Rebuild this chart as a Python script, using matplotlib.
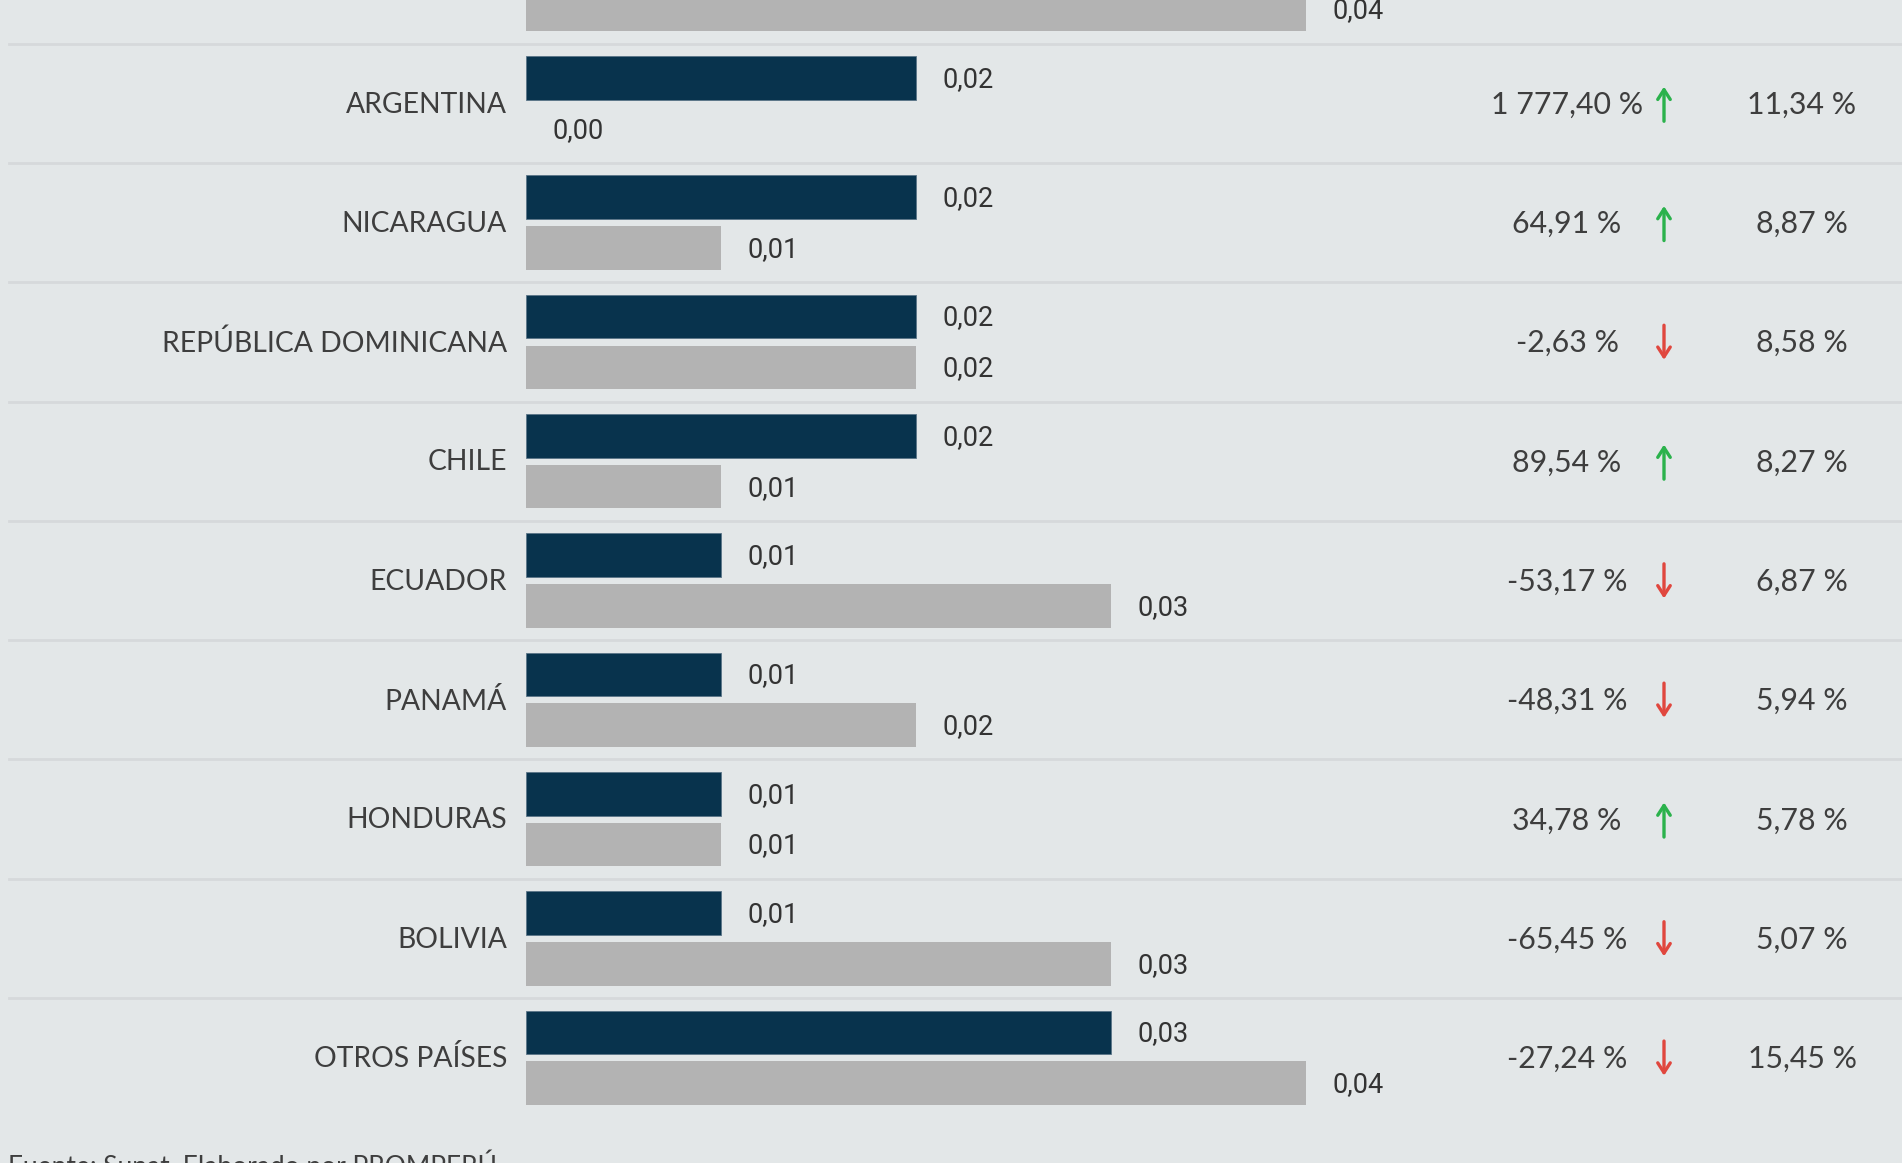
import matplotlib.pyplot as plt
from matplotlib.transforms import blended_transform_factory

countries = ["ARGENTINA", "NICARAGUA", "REPÚBLICA DOMINICANA", "CHILE", "ECUADOR",
             "PANAMÁ", "HONDURAS", "BOLIVIA", "OTROS PAÍSES"]
current = [0.02, 0.02, 0.02, 0.02, 0.01, 0.01, 0.01, 0.01, 0.03]
previous = [0.00, 0.01, 0.02, 0.01, 0.03, 0.02, 0.01, 0.03, 0.04]
change_txt = ["1 777,40 %", "64,91 %", "-2,63 %", "89,54 %", "-53,17 %",
              "-48,31 %", "34,78 %", "-65,45 %", "-27,24 %"]
change_up = [True, True, False, True, False, False, True, False, False]
share_txt = ["11,34 %", "8,87 %", "8,58 %", "8,27 %", "6,87 %",
             "5,94 %", "5,78 %", "5,07 %", "15,45 %"]
# row cut off at the top of the picture (only its grey bar shows)
top_prev = 0.04

BG = "#e3e7e8"
DARK = "#08334d"
GREY = "#b3b3b3"
TXT = "#333333"
TXT2 = "#3e3e3e"
W, H = 1902, 1163

fig = plt.figure(figsize=(W / 100, H / 100), dpi=100, facecolor=BG)
ax = fig.add_axes([0, 0, 1, 1])
ax.set_facecolor(BG)
ax.axis("off")

x0_px = 526.4
per_unit = 19500.0  # px per 1.0 value
row_px = 119.3
top_px = 43.7
ax.set_xlim(-x0_px / per_unit, (W - x0_px) / per_unit)
ax.set_ylim(-0.5 + (H - top_px) / row_px, -0.5 - top_px / row_px)

off = 0.213
bh = 0.366
rows = list(range(len(countries)))

ax.barh([r - off for r in rows], current, height=bh, color=DARK, edgecolor="#5a7588", linewidth=0.6)
ax.barh([r + off for r in rows], previous, height=bh, color=GREY, linewidth=0)
ax.barh([-1 + off], [top_prev], height=bh, color=GREY, linewidth=0)


def fmt(v):
    return f"{v:.2f}".replace(".", ",")


lab = dict(va="center", ha="left", fontsize=19.5, color=TXT, family="Roboto",
           textcoords="offset points", xytext=(19, -1))
for r, c, p in zip(rows, current, previous):
    ax.annotate(fmt(c), (c, r - off), **lab)
    ax.annotate(fmt(p), (p, r + off), **lab)
ax.annotate(fmt(top_prev), (top_prev, -1 + off), **lab)

# separators
for r in range(-1, len(countries) - 1):
    ax.axhline(r + 0.5, xmin=8.5 / W, xmax=1, color="#d6d9db", lw=2, zorder=0)

tr = blended_transform_factory(fig.transFigure, ax.transData)
for r, name, ct, up, sh in zip(rows, countries, change_txt, change_up, share_txt):
    ax.text(507 / W, r + 0.01, name, transform=tr, ha="right", va="center",
            fontsize=20.3, color=TXT2, family="Lato")
    ax.text(1567 / W, r + 0.01, ct, transform=tr, ha="center", va="center",
            fontsize=21.8, color=TXT2, family="Lato")
    ax.text(1802 / W, r + 0.01, sh, transform=tr, ha="center", va="center",
            fontsize=21.8, color=TXT2, family="Lato")
    col = "#2bb24c" if up else "#e0473e"
    y_a, y_b = (r + 0.15, r - 0.14) if up else (r - 0.14, r + 0.15)
    ax.annotate("", xy=(1664 / W, y_b), xytext=(1664 / W, y_a), xycoords=tr, textcoords=tr,
                arrowprops=dict(arrowstyle="->,head_length=0.7,head_width=0.45",
                                color=col, lw=2.4, shrinkA=0, shrinkB=0))

fig.text(8 / W, 1 - 1150 / H, "Fuente: Sunat. Elaborado por PROMPERÚ", ha="left", va="top",
         fontsize=19, color=TXT2, family="Lato")

fig.savefig("out.png", dpi=100, facecolor=BG)
